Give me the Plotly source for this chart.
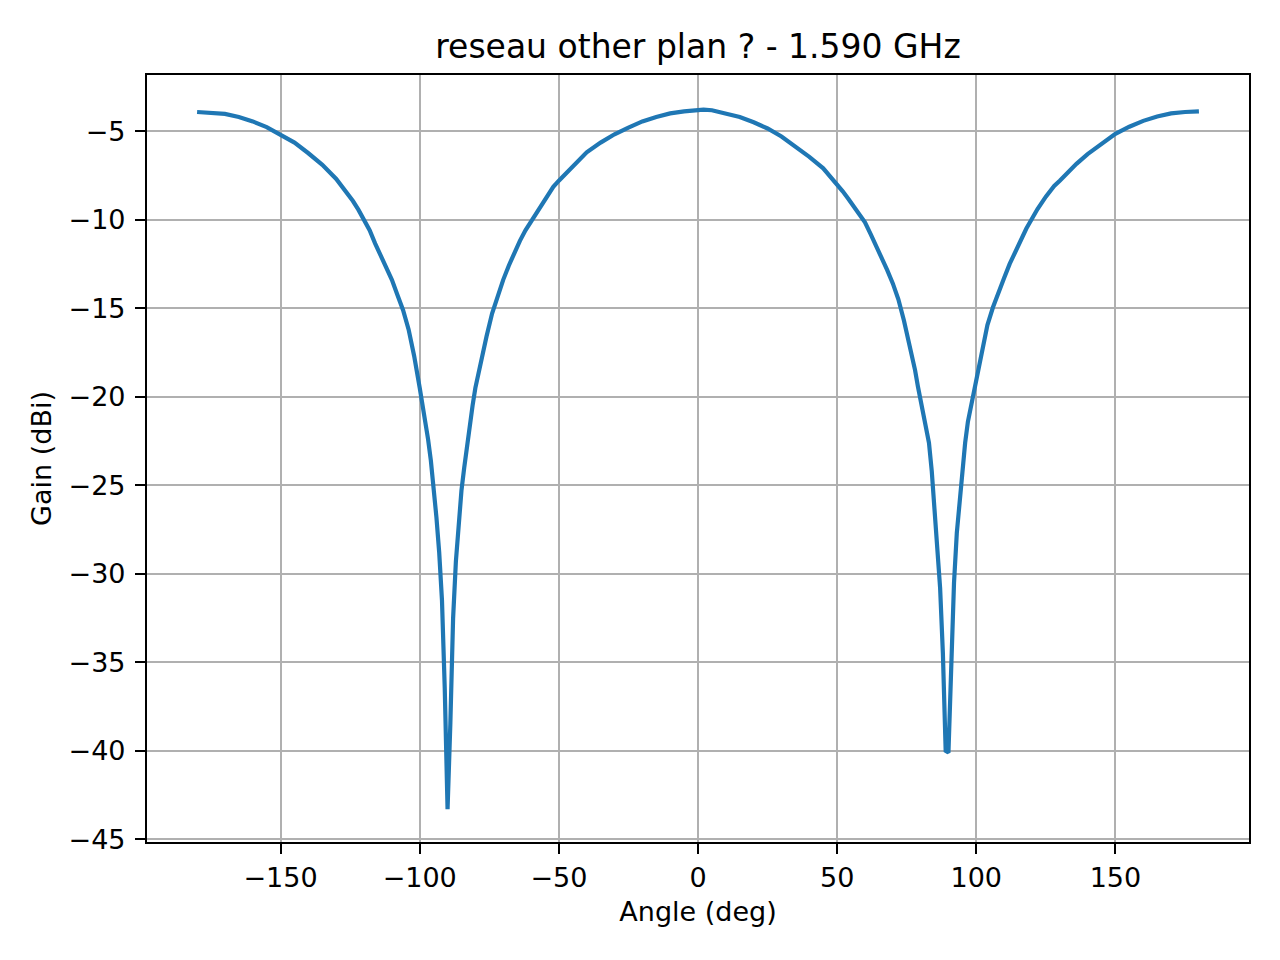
import plotly.graph_objects as go

angle = [-180, -175, -170, -165, -160, -155, -150, -145, -140, -135, -130, -127, -124, -122,
         -120, -118, -116, -114, -112, -110, -108, -106, -104, -102, -100, -99, -98, -97, -96,
         -95, -94, -93, -92, -91, -90, -89, -88, -87, -86, -85, -84, -83, -82, -81, -80, -78,
         -76, -74, -72, -70, -68, -66, -64, -62, -60, -58, -56, -54, -52, -50, -47, -44, -40,
         -35, -30, -25, -20, -15, -10, -5, 0, 2, 5, 10, 15, 20, 25, 30, 35, 40, 45, 50, 52,
         54, 56, 58, 60, 62, 64, 66, 68, 70, 72, 74, 76, 78, 79, 80, 81, 82, 83, 84, 85, 86,
         87, 88, 89, 90, 91, 92, 93, 94, 95, 96, 97, 98, 99, 100, 101, 102, 103, 104, 106,
         108, 110, 112, 114, 116, 118, 120, 122, 125, 128, 130, 133, 136, 140, 145, 150, 155,
         160, 165, 170, 175, 180]
gain = [-3.92, -3.95, -4.03, -4.20, -4.45, -4.77, -5.19, -5.65, -6.25, -6.90, -7.70, -8.30,
        -8.95, -9.45, -9.98, -10.6, -11.35, -12.0, -12.7, -13.4, -14.25, -15.1, -16.2, -17.7,
        -19.5, -20.4, -21.3, -22.4, -23.6, -25.0, -26.8, -28.8, -31.5, -36.5, -43.3, -38.5,
        -32.5, -29.3, -27.0, -25.3, -24.0, -22.7, -21.5, -20.5, -19.5, -17.9, -16.6, -15.3,
        -14.3, -13.4, -12.6, -11.85, -11.2, -10.6, -10.1, -9.6, -9.1, -8.55, -8.15, -7.8,
        -7.3, -6.8, -6.2, -5.65, -5.18, -4.8, -4.45, -4.2, -4.0, -3.88, -3.80, -3.79, -3.82,
        -3.98, -4.2, -4.5, -4.85, -5.3, -5.86, -6.45, -7.1, -7.98, -8.4, -8.82, -9.25,
        -9.7, -10.15, -10.8, -11.45, -12.15, -12.85, -13.6, -14.5, -15.7, -17.0, -18.5,
        -19.4, -20.2, -20.9, -21.7, -22.6, -24.2, -26.3, -28.4, -30.8, -34.5, -40.0, -40.1,
        -34.3, -30.5, -27.7, -25.8, -24.3, -22.6, -21.4, -20.6, -19.9, -19.2, -18.3, -17.4,
        -16.6, -15.95, -14.95, -14.05, -13.3, -12.5, -11.8, -11.1, -10.5, -9.95, -9.4, -8.7,
        -8.1, -7.8, -7.3, -6.85, -6.3, -5.7, -5.15, -4.75, -4.42, -4.17, -4.0, -3.92, -3.88]

x_ticks = [-150, -100, -50, 0, 50, 100, 150]
y_ticks = [-45, -40, -35, -30, -25, -20, -15, -10, -5]

fig = go.Figure()
fig.add_trace(go.Scatter(x=angle, y=gain, mode="lines",
                         line=dict(color="#1f77b4", width=4.2)))

axis_style = dict(showline=True, linecolor="black", linewidth=2.2, mirror=True,
                  showgrid=True, gridcolor="#b0b0b0", gridwidth=2.2, zeroline=False,
                  ticks="outside", ticklen=10, tickwidth=2.2, tickcolor="black",
                  tickfont=dict(family="DejaVu Sans", size=27, color="black"))

fig.update_xaxes(range=[-198, 198], tickvals=x_ticks, ticklabelstandoff=0,
                 title=dict(text="Angle (deg)", standoff=11,
                            font=dict(family="DejaVu Sans", size=27, color="black")),
                 **axis_style)
fig.update_yaxes(range=[-45.15, -1.83], tickvals=y_ticks, ticklabelstandoff=4,
                 title=dict(text="Gain (dBi)", standoff=9,
                            font=dict(family="DejaVu Sans", size=27, color="black")),
                 **axis_style)

# page body adds an 8px offset, so margins are shifted to compensate
fig.update_layout(
    width=1280, height=960,
    margin=dict(l=139, r=39, t=67, b=126),
    paper_bgcolor="white", plot_bgcolor="white",
    showlegend=False,
    title=dict(text="reseau other plan ? - 1.590 GHz", x=0.5, xref="paper",
               y=0.9604, yref="container", yanchor="middle",
               font=dict(family="DejaVu Sans", size=33, color="black")),
)

fig.write_html("out.html")
